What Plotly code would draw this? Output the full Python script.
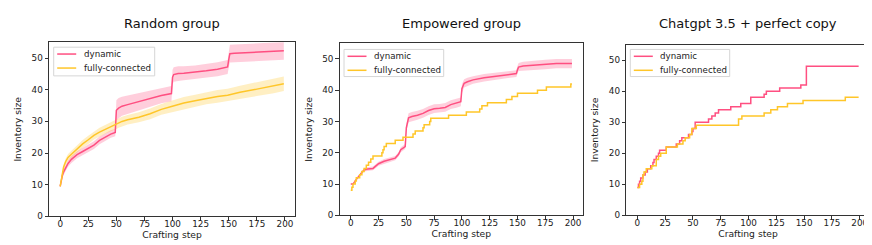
import plotly.graph_objects as go

# ---------------- data ----------------
# Panel 1: Random group (mean +/- std)
r_x = [0, 1, 2, 3, 5, 7, 10, 15, 20, 25, 30, 35, 40, 45, 49, 50, 52, 55, 60, 70, 80, 90, 99,
       100, 101, 105, 110, 120, 130, 140, 149, 150, 151, 155, 160, 175, 190, 199]
r_dyn = [9.5, 11.5, 13, 14, 15.5, 16.7, 18, 19.5, 20.5, 21.5, 22.5, 24, 25, 26, 26.5, 33.5, 34.2, 34.8, 35.3,
         36.3, 37.2, 38.2, 38.8, 44.0, 44.8, 45.1, 45.2, 45.5, 46.0, 46.5, 47.2, 49.5, 51.4, 51.5, 51.6,
         51.8, 52.1, 52.3]
r_dyn_std = [0.3, 0.6, 0.8, 0.9, 1.0, 1.0, 1.1, 1.1, 1.2, 1.2, 1.2, 1.2, 1.2, 1.2, 1.2, 3.2, 3.2, 3.0, 2.9,
             2.7, 2.6, 2.5, 2.4, 2.3, 2.3, 2.3, 2.2, 2.2, 2.2, 2.2, 2.2, 2.5, 2.8, 2.8, 2.8, 2.8, 2.8, 2.8]
r_full = [9.5, 12, 14, 15.5, 17.4, 18.6, 19.6, 21.3, 22.9, 24.2, 25.6, 26.6, 27.5, 28.3, 29.0, 29.1, 29.5,
          30.0, 30.5, 31.3, 32.4, 33.8, 34.7, 34.8, 34.9, 35.3, 35.8, 36.5, 37.3, 37.9, 38.3, 38.4, 38.4,
          38.7, 39.2, 40.2, 41.2, 41.9]
r_full_std = [0.3, 0.6, 0.8, 0.9, 1.0, 1.1, 1.1, 1.2, 1.2, 1.3, 1.3, 1.4, 1.4, 1.4, 1.5, 1.5, 1.5, 1.5, 1.5,
              1.6, 1.7, 1.7, 1.8, 1.8, 1.8, 1.8, 1.9, 1.9, 1.9, 2.0, 2.0, 2.0, 2.0, 2.0, 2.1, 2.2, 2.3, 2.3]

# Panel 2: Empowered group
e_x = [0, 2, 5, 8, 10, 12, 15, 20, 25, 30, 35, 40, 43, 45, 49, 50, 52, 55, 60, 65, 70, 75, 80, 85, 90, 95,
       99, 100, 102, 105, 110, 120, 130, 140, 149, 150, 151, 155, 165, 175, 185, 199]
e_dyn = [10, 10, 11.5, 13, 13.7, 14.5, 14.8, 15, 16.5, 17.3, 17.8, 18.3, 19.5, 21, 22, 28, 31.2, 31.6, 32,
         32.6, 33.5, 34.1, 34.2, 34.5, 35.4, 35.8, 36.3, 40.5, 42.2, 42.7, 43.3, 44, 44.5, 44.9, 45.3, 46.5,
         47.4, 47.7, 48.0, 48.2, 48.5, 48.5]
e_dyn_std = [0.0, 0.2, 0.4, 0.5, 0.5, 0.5, 0.6, 0.6, 0.6, 0.7, 0.7, 0.7, 0.7, 0.8, 0.8, 1.3, 1.4, 1.4, 1.4,
             1.4, 1.4, 1.4, 1.4, 1.4, 1.4, 1.4, 1.4, 1.4, 1.3, 1.3, 1.2, 1.2, 1.1, 1.1, 1.1, 1.2, 1.3, 1.4,
             1.5, 1.5, 1.5, 1.5]
e_full_x = [0, 1, 2, 4, 5, 8, 10, 12, 14, 16, 18, 20, 28, 29, 30, 32, 40, 47, 56, 58, 65, 66, 71, 72, 88,
            104, 116, 118, 123, 140, 145, 150, 168, 176, 198, 199]
e_full = [8, 9, 10, 11, 12, 13, 14, 15, 16, 17, 18, 19, 20, 21, 22, 23, 24, 25, 26, 27, 28, 29, 30, 31, 32,
          33, 34, 35, 36, 37, 38, 39, 40, 41, 42, 42]

# Panel 3: Chatgpt 3.5 + perfect copy
c_dyn_x = [0, 1, 2, 3, 5, 7, 9, 12, 14, 15, 17, 19, 20, 26, 35, 38, 40, 46, 49, 50, 52, 64, 67, 70, 73, 84,
           93, 102, 114, 116, 128, 147, 152, 199]
c_dyn = [9, 10, 11, 12, 13, 14, 15, 16, 17, 18, 19, 20, 21, 22, 23, 24, 25, 26, 27, 28, 30, 31, 32, 33, 34,
         35, 36, 38, 39, 40, 41, 42, 48, 48]
c_full_x = [0, 2, 4, 5, 6, 8, 13, 17, 19, 21, 26, 36, 41, 43, 47, 49, 53, 91, 94, 114, 120, 126, 135, 149,
            187, 199]
c_full = [9, 10, 11, 13, 14, 15, 16, 18, 19, 20, 22, 23, 24, 25, 26, 28, 29, 31, 32, 33, 34, 35, 36, 37, 38,
          38]

titles = ["Random group", "Empowered group", "Chatgpt 3.5 + perfect copy"]
series_names = ["dynamic", "fully-connected"]
x_ticks = [0, 25, 50, 75, 100, 125, 150, 175, 200]
y_ticks = [0, 10, 20, 30, 40, 50]

# ---------------- style ----------------
PINK = "#ff4f81"
GOLD = "#ffc629"
PINK_BAND = "rgba(255,79,129,0.28)"
GOLD_BAND = "rgba(255,198,41,0.28)"
FONT = "DejaVu Sans"
W, H = 872, 245
LW = 1.5

x_dom = [(41 / W, 287 / W), (331.7 / W, 575 / W), (618.3 / W, 861.7 / W)]
y_dom = [(32.3 / H, 210 / H), (33.3 / H, 209 / H), (33.3 / H, 207.7 / H)]
# legend boxes in pixels: (left, top, right, bottom)
leg_box = [(45.7, 40, 146.7, 69.3), (336, 42.3, 435.7, 70), (622.3, 42.3, 721.7, 70)]

fig = go.Figure()


def band(x, m, s, color, ax):
    up = [a + b for a, b in zip(m, s)]
    lo = [a - b for a, b in zip(m, s)]
    fig.add_trace(go.Scatter(x=list(x) + list(x)[::-1], y=up + lo[::-1], fill="toself",
                             fillcolor=color, line=dict(width=0), mode="lines", hoverinfo="skip",
                             showlegend=False, xaxis="x" + ax, yaxis="y" + ax))


def line(x, y, color, name, ax, shape="linear"):
    fig.add_trace(go.Scatter(x=x, y=y, mode="lines", name=name, showlegend=False,
                             line=dict(color=color, width=LW, shape=shape),
                             xaxis="x" + ax, yaxis="y" + ax))


# panel 1
band(r_x, r_dyn, r_dyn_std, PINK_BAND, "")
band(r_x, r_full, r_full_std, GOLD_BAND, "")
line(r_x, r_dyn, PINK, series_names[0], "")
line(r_x, r_full, GOLD, series_names[1], "")
# panel 2
band(e_x, e_dyn, e_dyn_std, PINK_BAND, "2")
line(e_x, e_dyn, PINK, series_names[0], "2")
line(e_full_x, e_full, GOLD, series_names[1], "2", shape="hv")
# panel 3
line(c_dyn_x, c_dyn, PINK, series_names[0], "3", shape="hv")
line(c_full_x, c_full, GOLD, series_names[1], "3", shape="hv")

axis_common = dict(showgrid=False, zeroline=False, showline=True, mirror=True, linecolor="#333333",
                   linewidth=1, ticks="outside", ticklen=3.5, tickwidth=1, tickcolor="#333333",
                   tickfont=dict(family=FONT, size=8.8, color="#222222"))

layout = dict(width=W, height=H, margin=dict(l=0, r=0, t=0, b=0), paper_bgcolor="white",
              plot_bgcolor="white", font=dict(family=FONT, color="#222222"), showlegend=False)
annotations = []
shapes = []


def px(x):
    return x / W


def py(y):
    return (H - y) / H


for i in range(3):
    sfx = "" if i == 0 else str(i + 1)
    layout["xaxis" + sfx] = dict(axis_common, domain=list(x_dom[i]), range=[-9.95, 208.95],
                                 tickvals=x_ticks, anchor="y" + sfx, ticklabelstandoff=-4,
                                 title=dict(text="Crafting step", font=dict(family=FONT, size=9.2), standoff=0))
    layout["yaxis" + sfx] = dict(axis_common, domain=list(y_dom[i]), range=[0, 55], tickvals=y_ticks,
                                 anchor="x" + sfx,
                                 title=dict(text="Inventory size", font=dict(family=FONT, size=9.2), standoff=8))
    annotations.append(dict(text=titles[i], x=(x_dom[i][0] + x_dom[i][1]) / 2, y=(H - 16) / H,
                            xref="paper", yref="paper", xanchor="center", yanchor="middle",
                            showarrow=False, font=dict(family=FONT, size=13, color="#111111")))
    # legend box
    l, t, r, b = leg_box[i]
    shapes.append(dict(type="rect", xref="paper", yref="paper", x0=px(l), x1=px(r), y0=py(b), y1=py(t),
                       fillcolor="rgba(255,255,255,0.85)", line=dict(color="#d6d6d6", width=1), layer="above"))
    row_y = [t + 7, t + 21.3]
    for j, (nm, col) in enumerate(zip(series_names, [PINK, GOLD])):
        shapes.append(dict(type="line", xref="paper", yref="paper", x0=px(l + 3.5), x1=px(l + 22.5),
                           y0=py(row_y[j]), y1=py(row_y[j]), line=dict(color=col, width=LW), layer="above"))
        annotations.append(dict(text=nm, x=px(l + 28), y=py(row_y[j]), xref="paper", yref="paper",
                                xanchor="left", yanchor="middle", showarrow=False,
                                font=dict(family=FONT, size=8.7, color="#222222")))
layout["annotations"] = annotations
layout["shapes"] = shapes
fig.update_layout(**layout)
fig.write_html("out.html")
